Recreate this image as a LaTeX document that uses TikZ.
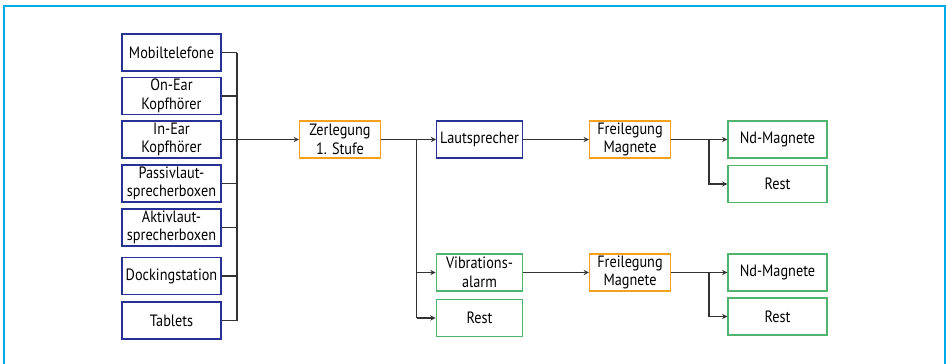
\documentclass[tikz,border=0pt]{standalone}
\usepackage{fontspec}
\setmainfont[FakeStretch=0.87]{PT Sans}
\usepackage{xcolor}
\usetikzlibrary{arrows.meta, positioning}
\definecolor{frameblue}{RGB}{0,170,228}
\definecolor{boxblue}{RGB}{40,50,150}
\definecolor{boxorange}{RGB}{247,160,30}
\definecolor{boxgreen}{RGB}{80,180,110}
\definecolor{linegray}{RGB}{50,50,50}
\tikzset{
    box/.style={rectangle, line width=1.1pt, minimum height=1.11cm, text centered, align=center, inner sep=1pt, font=\fontsize{14}{15.8}\selectfont},
    product/.style={box, draw=boxblue, minimum width=2.97cm},
    stepbox/.style={box, draw=boxorange, minimum width=2.43cm},
    part/.style={box, draw=boxblue, minimum width=2.57cm},
    fraction/.style={box, draw=boxgreen, minimum width=2.6cm},
    result/.style={box, draw=boxgreen, minimum width=2.97cm},
    link/.style={line width=1pt, linegray},
    arrow/.style={->, line width=1pt, linegray, >=stealth}
}
\begin{document}
\begin{tikzpicture}[x=0.03cm, y=-0.03cm]
    \useasboundingbox (0,0) rectangle (946,364);
    % Frame
    \draw[frameblue, line width=1.3pt] (4,364) -- (4,6) -- (945,6) -- (945,364);

    % Products
    \node[product] (mobil) at (171.5,52.5) {Mobiltelefone};
    \node[product] (onear) at (171.5,96) {On-Ear\\Kopfhörer};
    \node[product] (inear) at (171.5,139.5) {In-Ear\\Kopfhörer};
    \node[product] (passiv) at (171.5,183.5) {Passivlaut-\\sprecherboxen};
    \node[product] (aktiv) at (171.5,227.5) {Aktivlaut-\\sprecherboxen};
    \node[product] (dock) at (171.5,276) {Dockingstation};
    \node[product] (tablet) at (171.5,320.5) {Tablets};

    % Steps
    \node[stepbox] (zerlegung) at (340,139.5) {Zerlegung\\1. Stufe};
    \node[part] (laut) at (479.5,139.5) {Lautsprecher};
    \node[fraction] (vib) at (479.5,272.5) {Vibrations-\\alarm};
    \node[fraction] (rest0) at (479.5,318) {Rest};
    \node[stepbox] (frei1) at (630,139.5) {Freilegung\\Magnete};
    \node[stepbox] (frei2) at (630,272.5) {Freilegung\\Magnete};

    % Results
    \node[result] (nd1) at (777.5,139.5) {Nd-Magnete};
    \node[result] (rest1) at (777.5,184) {Rest};
    \node[result] (nd2) at (777.5,272.5) {Nd-Magnete};
    \node[result] (rest2) at (777.5,316.5) {Rest};

    % Bus lines
    \coordinate (busA) at (237,0);
    \coordinate (busB) at (416.5,0);
    \coordinate (busC) at (709,0);

    % Connections
    \foreach \n in {mobil,onear,inear,passiv,aktiv,dock,tablet}
        \draw[link] (\n.east) -- (\n.east -| busA);
    \draw[link] (mobil.east -| busA) -- (tablet.east -| busA);
    \draw[arrow] (zerlegung.west -| busA) -- (zerlegung);
    \draw[arrow] (zerlegung) -- (laut);
    \draw[link] (zerlegung.east -| busB) -- (rest0.west -| busB);
    \draw[arrow] (vib.west -| busB) -- (vib);
    \draw[arrow] (rest0.west -| busB) -- (rest0);
    \draw[arrow] (laut) -- (frei1);
    \draw[arrow] (vib) -- (frei2);
    \draw[arrow] (frei1) -- (nd1);
    \draw[arrow] (frei1.east -| busC) |- (rest1);
    \draw[arrow] (frei2) -- (nd2);
    \draw[arrow] (frei2.east -| busC) |- (rest2);
\end{tikzpicture}
\end{document}
